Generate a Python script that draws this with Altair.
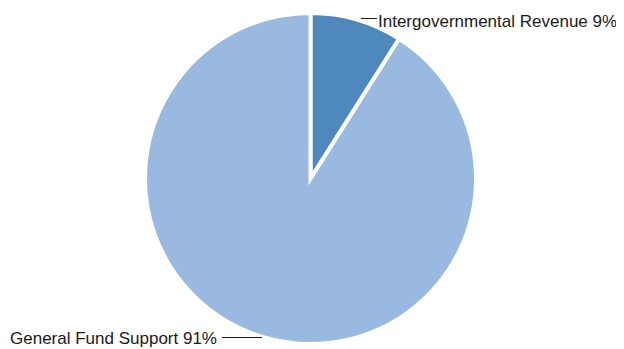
import altair as alt
import pandas as pd

categories = ["Intergovernmental Revenue", "General Fund Support"]
values = [9, 91]
colors = ["#4F88BD", "#99B9E0"]
labels = ["Intergovernmental Revenue 9%", "General Fund Support 91%"]

df = pd.DataFrame({"category": categories, "value": values, "order": [0, 1]})

FONT = "Liberation Sans"

pie = alt.Chart(df).mark_arc(stroke="white", strokeWidth=4, outerRadius=165.5).encode(
    theta=alt.Theta("value:Q", stack=True),
    order=alt.Order("order:Q"),
    color=alt.Color("category:N", scale=alt.Scale(domain=categories, range=colors), legend=None),
    x=alt.value(302.5),
    y=alt.value(170.5),
)

lbl1 = alt.Chart(pd.DataFrame({"t": [labels[0]]})).mark_text(
    align="left", baseline="alphabetic", font=FONT, fontSize=17, color="#1a1a1a"
).encode(text="t:N", x=alt.value(370), y=alt.value(19))

lbl2 = alt.Chart(pd.DataFrame({"t": [labels[1]]})).mark_text(
    align="left", baseline="alphabetic", font=FONT, fontSize=17, color="#1a1a1a"
).encode(text="t:N", x=alt.value(2), y=alt.value(336))

rule1 = alt.Chart(pd.DataFrame({"a": [0]})).mark_rule(color="#1a1a1a", strokeWidth=1).encode(
    x=alt.value(353), x2=alt.value(369), y=alt.value(10.5)
)
rule2 = alt.Chart(pd.DataFrame({"a": [0]})).mark_rule(color="#1a1a1a", strokeWidth=1).encode(
    x=alt.value(214), x2=alt.value(254), y=alt.value(329.5)
)

chart = alt.layer(pie, rule1, rule2, lbl1, lbl2).properties(
    width=608, height=341, padding=0, autosize=alt.AutoSizeParams(type="none")
).configure_view(stroke=None)

chart.save("out.html", embed_options={"renderer": "svg", "actions": False})
